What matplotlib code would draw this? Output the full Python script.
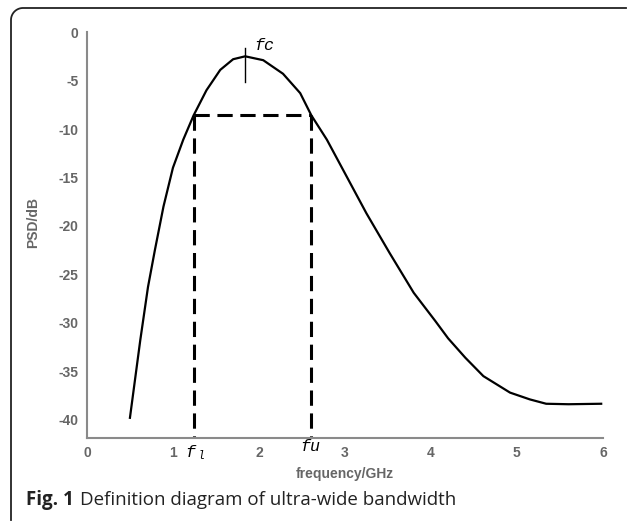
import numpy as np
import matplotlib
matplotlib.use("Agg")
import matplotlib.pyplot as plt
from matplotlib.lines import Line2D

# PSD curve (GHz, dB)
freq = [0.50, 0.62, 0.71, 0.79, 0.89, 1.00, 1.12, 1.24, 1.39, 1.55, 1.70, 1.84,
        2.05, 2.28, 2.48, 2.61, 2.79, 3.02, 3.25, 3.52, 3.80, 4.05, 4.20, 4.40,
        4.61, 4.92, 5.15, 5.34, 5.60, 5.98]
psd = [-39.8, -31.8, -26.3, -22.5, -18.0, -14.0, -11.1, -8.6, -6.0, -3.9, -2.8, -2.5,
       -2.9, -4.3, -6.3, -8.6, -11.1, -14.9, -18.7, -22.8, -26.9, -29.8, -31.6, -33.6,
       -35.5, -37.2, -37.9, -38.35, -38.4, -38.35]

f_l = 1.24
f_u = 2.61
f_c = 1.84
level = -8.6

xticks = [0, 1, 2, 3, 4, 5, 6]
yticks = [0, -5, -10, -15, -20, -25, -30, -35, -40]

plt.rcParams['lines.scale_dashes'] = False
plt.rcParams['axes.unicode_minus'] = False

fig = plt.figure(figsize=(6.3, 5.26), dpi=100)
ax = fig.add_axes([0.138, 0.167, 0.819, 0.772])

ax.plot(freq, psd, color='black', lw=1.6, solid_joinstyle='round')

ymin = -41.9
dash = [11, 5.5]
ax.plot([f_l, f_u], [level, level], color='black', lw=2.2, dashes=dash)
ax.plot([f_l, f_l], [level, ymin], color='black', lw=2.2, dashes=dash)
ax.plot([f_u, f_u], [level, ymin], color='black', lw=2.2, dashes=dash)
ax.plot([f_c, f_c], [-1.6, -5.2], color='black', lw=1)

lab = dict(family='Liberation Mono', style='italic', fontsize=12, color='black')
ax.text(f_c + 0.1, -1.4, 'fc', ha='left', va='center', **lab)
ax.text(f_l - 0.10, -43.4, 'f', ha='left', va='center', clip_on=False, **lab)
ax.text(f_l + 0.05, -43.7, 'l', ha='left', va='center', clip_on=False,
        family='Liberation Mono', style='italic', fontsize=8.5)
ax.text(f_u - 0.13, -42.8, 'fu', ha='left', va='center', clip_on=False, **lab)

ax.set_xlim(0, 6)
ax.set_ylim(ymin, 0)
ax.set_xticks(xticks)
ax.set_yticks(yticks)
for s in ['top', 'right']:
    ax.spines[s].set_visible(False)
for s in ['left', 'bottom']:
    ax.spines[s].set_color('#8a8a8a')
    ax.spines[s].set_linewidth(1.5)
ax.tick_params(length=0, labelsize=10, labelcolor='#666666', pad=6)
for t in ax.get_xticklabels() + ax.get_yticklabels():
    t.set_family('Liberation Sans')
    t.set_fontweight('bold')

ax.set_xlabel('frequency/GHz', family='Liberation Sans', fontsize=10,
              color='#666666', fontweight='bold')
ax.set_ylabel('PSD/dB', family='Liberation Sans', fontsize=10,
              color='#666666', fontweight='bold')
ax.xaxis.set_label_coords(0.5, -0.07)
ax.yaxis.set_label_coords(-0.09, 0.53)

# rounded frame on the top and left
r = 12
t = np.linspace(np.pi / 2, np.pi, 20)
px = np.concatenate([[626], 11 + r + r * np.cos(t), [11]])
py = np.concatenate([[8], 8 + r - r * np.sin(t), [520]])
fig.add_artist(Line2D(px / 630, 1 - py / 526, color='#222222', lw=1.3))

cap_y = 1 - 500 / 526
t1 = fig.text(26 / 630, cap_y, 'Fig. 1', family='Open Sans', fontweight='bold',
              fontsize=13.5, va='center', ha='left', color='#222222')
fig.canvas.draw()
bb = t1.get_window_extent()
fig.text((bb.x1 + 6) / 630, cap_y, 'Definition diagram of ultra-wide bandwidth',
         family='Open Sans', fontsize=13.5, va='center', ha='left', color='#222222')

fig.savefig('out.png', dpi=100)
